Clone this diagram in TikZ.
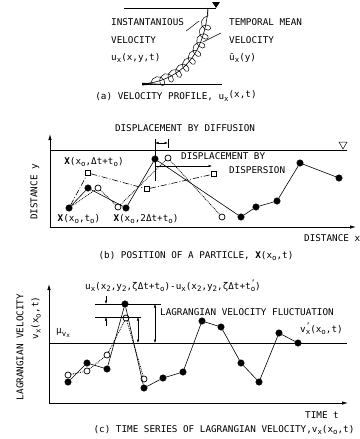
\documentclass[tikz,border=0pt]{standalone}
\usepackage{fontspec}
\setmainfont{DejaVu Sans Mono}
\usepackage{tikz}
\usetikzlibrary{arrows.meta,positioning,decorations.pathmorphing}
\newcommand\subx[1]{\raisebox{-0.45ex}{\fontsize{7.4}{8}\selectfont #1}}
\newcommand\supx[1]{\raisebox{0.8ex}{\fontsize{7.4}{8}\selectfont #1}}

\begin{document}
\begin{tikzpicture}[x=1pt, y=-1pt,
  lbl/.style={font=\fontsize{9.3}{11}\selectfont, inner sep=0pt},
  fdot/.style={circle, draw, fill=black, inner sep=0pt, minimum size=6.5pt},
  odot/.style={circle, draw, fill=white, inner sep=0pt, minimum size=6pt, line width=0.7pt},
  osq/.style={rectangle, draw, fill=white, inner sep=0pt, minimum size=5.5pt, line width=0.6pt},
  axis/.style={-{Latex[length=6pt,width=3.5pt]}, line width=0.8pt},
  trk/.style={line width=0.6pt},
  dottrk/.style={densely dotted, line width=0.8pt},
  dashtrk/.style={dash pattern=on 6pt off 2pt on 1pt off 2pt, line width=0.6pt},
  dim/.style={{Latex[length=3.5pt,width=2.5pt]}-{Latex[length=3.5pt,width=2.5pt]}, line width=0.5pt},
  pin/.style={-{Latex[length=3.5pt,width=2.5pt]}, line width=0.5pt}]
\useasboundingbox (0,0) rectangle (359,439);

% (a) velocity profile
\coordinate (bedL) at (142,84);
\coordinate (bedR) at (222,84);
\coordinate (srfL) at (124,8);
\coordinate (srfR) at (216,8);
\coordinate (bed) at (143,84);
\coordinate (srf) at (208,8);
\draw[line width=0.7pt] (srfL) -- (srfR);
\draw[line width=0.7pt] (bedL) -- (bedR);
\fill (142,82.8) -- (160,84) -- (142,85.4) -- cycle;
\fill (212,2) -- (220,2) -- (216,8) -- cycle;
\draw[line width=0.6pt] (bed) .. controls (185,80) and (205,50) .. (srf);
\draw[line width=0.5pt, decorate, decoration={coil, amplitude=5pt, segment length=9pt, aspect=0.9, pre length=8pt, post length=3pt}]
  (bed) .. controls (185,80) and (205,50) .. (srf);
\node[lbl, anchor=west] (inst1) at (111,22) {INSTANTANIOUS};
\node[lbl, anchor=west] (inst2) at (111,40) {VELOCITY};
\node[lbl, anchor=west] (inst3) at (111,58) {u\subx{x}(x,y,t)};
\node[lbl, anchor=west] (mean1) at (229,22) {TEMPORAL MEAN};
\node[lbl, anchor=west] (mean2) at (229,40) {VELOCITY};
\node[lbl, anchor=west] (mean3) at (229,58) {ū\subx{x}(y)};
\coordinate (instp) at (199,21);
\coordinate (meanp) at (203,42);
\draw[line width=0.5pt] (inst1.east) ++(2,9) coordinate (inst0) -- (instp);
\draw[line width=0.5pt] (mean2.west) ++(-8,-7) coordinate (mean0) -- (meanp);
\node[lbl] (capa) at (176,96) {(a) VELOCITY PROFILE, u\subx{x}\raisebox{0.5ex}{(x,t)}};

% (b) position of a particle
\coordinate (bo) at (50,227);
\coordinate (by) at (50,134);
\coordinate (bx) at (356,227);
\coordinate (bsL) at (50,150);
\coordinate (bsR) at (347,150);
\draw[axis] (bo) -- (by);
\draw[axis] (bo) -- (bx);
\draw[line width=0.8pt] (bsL) -- (bsR);
\draw[line width=0.5pt] (339,142) -- (347,142) -- (343,149) -- cycle;
\node[lbl, rotate=90] (ylab) at (35,192) {DISTANCE y};
\node[lbl, anchor=west] (xlab) at (304,238) {DISTANCE x};
\node[lbl] (capb) at (196,256) {(b) POSITION OF A PARTICLE, \textbf{X}(x\subx{o},t)};
\node[lbl] (diff) at (185,128) {DISPLACEMENT BY DIFFUSION};
\node[lbl, anchor=west] (disp1) at (181,156) {DISPLACEMENT BY};
\node[lbl, anchor=west] (disp2) at (229,170) {DISPERSION};

\node[fdot] (p1) at (69,208) {};
\node[fdot] (p2) at (88,188) {};
\node[fdot] (p3) at (126,208) {};
\node[fdot] (p4) at (155,159) {};
\node[fdot] (p5) at (241,217) {};
\node[fdot] (p6) at (256,207) {};
\node[fdot] (p7) at (277,201) {};
\node[fdot] (p8) at (300,163) {};
\node[fdot] (p9) at (339,178) {};
\node[odot] (q2) at (98,188) {};
\node[odot] (q3) at (118,207) {};
\node[odot] (q4) at (168,158) {};
\node[odot] (q5) at (222,217) {};
\node[osq] (s2) at (88,173) {};
\node[osq] (s3) at (147,189) {};
\node[osq] (s4) at (214,174) {};
\draw[trk] (p1) -- (p2) -- (p3) -- (p4) -- (p5) -- (p6) -- (p7) -- (p8) -- (p9);
\draw[dottrk] (p1) -- (q2) -- (q3) -- (q4) -- (q5);
\draw[dashtrk] (p1) -- (s2) -- (s3) -- (s4);

\coordinate (dv0) at (155,139);
\coordinate (dv1) at (155,181);
\coordinate (dt0) at (168,139);
\coordinate (dt1) at (168,148);
\draw[line width=0.5pt] (dv0) -- (dv1);
\draw[line width=0.5pt] (dt0) -- (dt1);
\draw[dim] (155,143) coordinate (df0) -- (168,143) coordinate (df1);
\coordinate (ds0) at (156,166);
\coordinate (ds1) at (212,166);
\draw[pin] (ds0) -- (ds1);

\node[lbl] (xl1) at (94,162) {\textbf{X}(x\subx{o},Δt+t\subx{o})};
\node[lbl] (xl0) at (79,219) {\textbf{X}(x\subx{o},t\subx{o})};
\node[lbl] (xl2) at (146,219) {\textbf{X}(x\subx{o},2Δt+t\subx{o})};

% (c) time series of Lagrangian velocity
\coordinate (co) at (49,403);
\coordinate (cy) at (49,284);
\coordinate (cx) at (348,403);
\coordinate (cmL) at (49,343);
\coordinate (cmR) at (347,343);
\draw[axis] (co) -- (cy);
\draw[axis] (co) -- (cx);
\draw[line width=0.9pt] (cmL) -- (cmR);
\node[lbl, rotate=90] (vlab1) at (20,347) {LAGRANGIAN VELOCITY};
\node[lbl, rotate=90] (vlab2) at (36,318) {v\subx{x}(x\subx{o},t)};
\node[lbl, anchor=west] (mu) at (56,333) {μ\subx{v\raisebox{-0.3ex}{\fontsize{6}{7}\selectfont x}}};
\node[lbl, anchor=west] (tlab) at (305,415) {TIME t};
\node[lbl] (capc) at (224,430) {(c) TIME SERIES OF LAGRANGIAN VELOCITY,v\subx{x}(x\subx{o},t)};
\node[lbl] (dlab) at (173,286) {u\subx{x}(x\subx{2},y\subx{2},ζΔt+t\subx{o})-u\subx{x}(x\subx{2},y\subx{2},ζΔt+t\rlap{\subx{o}}\supx{'})};
\node[lbl, anchor=west] (flab) at (160,312) {LAGRANGIAN VELOCITY FLUCTUATION};
\node[lbl, anchor=west] (vplab) at (300,329) {v\rlap{\supx{'}}\subx{x}(x\subx{o},t)};

\node[fdot] (c1) at (68,382) {};
\node[fdot] (c2) at (87,363) {};
\node[fdot] (c3) at (107,369) {};
\node[fdot] (c4) at (125,304) {};
\node[fdot] (c5) at (144,388) {};
\node[fdot] (c6) at (163,378) {};
\node[fdot] (c7) at (183,372) {};
\node[fdot] (c8) at (202,321) {};
\node[fdot] (c9) at (221,327) {};
\node[fdot] (c10) at (241,363) {};
\node[fdot] (c11) at (259,382) {};
\node[fdot] (c12) at (279,333) {};
\node[fdot] (c13) at (298,343) {};
\node[odot] (o1) at (68,375) {};
\node[odot] (o2) at (87,371) {};
\node[odot] (o3) at (107,355) {};
\node[odot] (o4) at (126,318) {};
\node[odot] (o5) at (144,379) {};
\draw[trk] (c1) -- (c2) -- (c3) -- (c4) -- (c5) -- (c6) -- (c7) -- (c8) -- (c9) -- (c10) -- (c11) -- (c12) -- (c13);
\draw[dottrk] (o1) -- (o2) -- (o3) -- (o4) -- (o5);

\coordinate (hu0) at (95,304);
\coordinate (hu1) at (161,304);
\coordinate (hl0) at (95,317);
\coordinate (hl1) at (141,317);
\draw[line width=0.5pt] (hu0) -- (hu1);
\draw[line width=0.5pt] (hl0) -- (hl1);
\draw[pin] (106,296) coordinate (a0) -- (106,304) coordinate (a1);
\draw[pin] (106,326) coordinate (b0) -- (106,317) coordinate (b1);
\draw[dim] (138,317) coordinate (e0) -- (138,343) coordinate (e1);
\draw[dim] (155,304) coordinate (f0) -- (155,343) coordinate (f1);
\end{tikzpicture}
\end{document}
